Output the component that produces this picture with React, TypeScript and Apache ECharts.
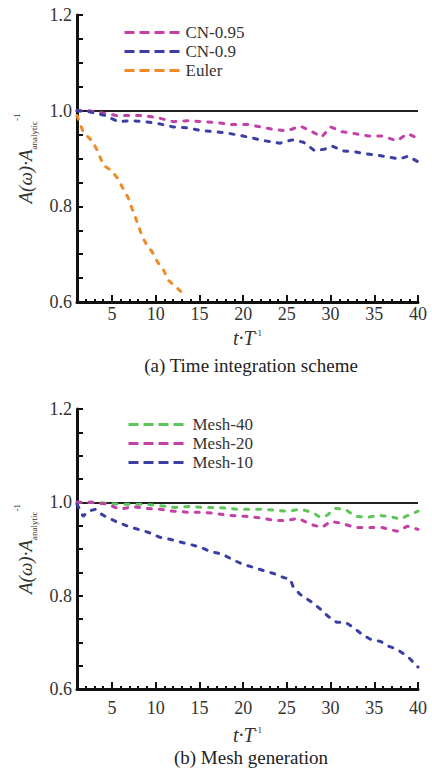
import React, { useEffect, useRef } from "react";
import * as echarts from "echarts";

const FONT = "Liberation Serif";

const xTickValues = [5, 10, 15, 20, 25, 30, 35, 40];
const xMin = 1;
const xMax = 40;
const yMin = 0.6;
const yMax = 1.2;
const yStep = 0.2;
const refLevel = 1.0;

const topCaption = "(a) Time integration scheme";
const bottomCaption = "(b) Mesh generation";

const topNames = ["CN-0.95", "CN-0.9", "Euler"];
const bottomNames = ["Mesh-40", "Mesh-20", "Mesh-10"];

const cn095: [number, number][] = [
  [1, 1.0], [2.3, 1.0], [4.2, 0.994], [5.5, 0.99], [7.1, 0.99], [8.6, 0.99],
  [10.3, 0.985], [12, 0.977], [13.6, 0.979], [15.3, 0.977], [17, 0.975],
  [18.7, 0.971], [20.5, 0.971], [22, 0.966], [23.7, 0.96], [25.1, 0.958],
  [26.5, 0.968], [27.9, 0.956], [29, 0.945], [30, 0.966], [31.3, 0.956],
  [32.8, 0.952], [34.3, 0.947], [35.9, 0.947], [37.6, 0.937], [38.8, 0.952],
  [40, 0.942],
];

const cn09: [number, number][] = [
  [1, 1.0], [2.3, 0.998], [4.2, 0.99], [5.7, 0.977], [7.1, 0.979], [8.8, 0.977],
  [10.3, 0.973], [12, 0.966], [13.7, 0.964], [15.3, 0.958], [16.8, 0.956],
  [18.5, 0.952], [20, 0.947], [22.5, 0.937], [24.2, 0.932], [25.6, 0.939],
  [26.9, 0.934], [28.2, 0.916], [29.4, 0.92], [30.2, 0.926], [31.4, 0.916],
  [32.8, 0.914], [33.9, 0.91], [35.3, 0.907], [36.6, 0.903], [37.9, 0.899],
  [38.9, 0.905], [40, 0.893],
];

const euler: [number, number][] = [
  [1, 0.99], [1.7, 0.956], [2.8, 0.935], [3.4, 0.914], [4, 0.886], [5, 0.874],
  [5.7, 0.857], [6.3, 0.836], [6.8, 0.82], [7.3, 0.795], [7.9, 0.766],
  [8.5, 0.735], [9.1, 0.716], [9.6, 0.705], [10.2, 0.684], [10.9, 0.667],
  [11.4, 0.646], [12.4, 0.63], [13, 0.62], [13.3, 0.616],
];

const mesh40: [number, number][] = [
  [1, 1.0], [2.7, 1.0], [4.5, 0.998], [5.7, 0.996], [8.4, 0.996], [9.9, 0.994],
  [12.2, 0.989], [13.9, 0.991], [15.4, 0.989], [17.1, 0.989], [19.4, 0.985],
  [20.6, 0.985], [22.2, 0.985], [23.7, 0.983], [25.1, 0.981], [26.5, 0.985],
  [27.9, 0.979], [28.8, 0.968], [29.6, 0.972], [30.5, 0.987], [31.7, 0.985],
  [32.8, 0.97], [34.2, 0.968], [35.4, 0.972], [36.8, 0.97], [37.9, 0.964],
  [39.1, 0.974], [40, 0.981],
];

const mesh20: [number, number][] = [
  [1, 1.0], [2.7, 1.0], [4.5, 0.996], [5.9, 0.985], [7.4, 0.991], [8.8, 0.987],
  [10.5, 0.985], [12, 0.981], [13.6, 0.979], [15.3, 0.979], [16.8, 0.976],
  [18.5, 0.972], [20.3, 0.97], [22.2, 0.966], [23.7, 0.961], [25, 0.961],
  [26.3, 0.966], [27.7, 0.953], [29, 0.946], [30, 0.959], [31.3, 0.955],
  [32.8, 0.946], [34.3, 0.946], [35.9, 0.946], [37.6, 0.938], [38.8, 0.949],
  [40, 0.942],
];

const mesh10: [number, number][] = [
  [1, 0.996], [1.7, 0.97], [2.3, 0.981], [3.1, 0.985], [3.4, 0.979],
  [4.4, 0.968], [5.7, 0.957], [6.8, 0.949], [8, 0.942], [9.1, 0.936],
  [10.5, 0.925], [11.6, 0.921], [12.6, 0.916], [13.9, 0.91], [15.1, 0.904],
  [16.2, 0.895], [17.6, 0.889], [18.7, 0.878], [20, 0.867], [21.1, 0.861],
  [22.3, 0.854], [23.4, 0.848], [24.6, 0.839], [25.4, 0.835], [25.7, 0.82],
  [26.5, 0.803], [27.7, 0.788], [28.6, 0.775], [29.7, 0.756], [30.7, 0.743],
  [31.7, 0.743], [32.6, 0.732], [33.6, 0.717], [34.5, 0.707], [35.7, 0.702],
  [36.6, 0.692], [37.6, 0.685], [38.8, 0.67], [39.7, 0.653], [40, 0.647],
];

const COLORS = {
  magenta: "#c43fa6",
  blue: "#3b3fa3",
  orange: "#f08a24",
  green: "#5cc658",
};

const AXIS_COLOR = "#111";
const LABEL_COLOR = "#333";

const tickRich = {
  s: { fontFamily: FONT, fontSize: 18, color: LABEL_COLOR },
};

function yAxisName() {
  return {
    name: "{a|A(ω)·A}{b|analytic}{c|-1}",
    nameLocation: "middle" as const,
    nameRotate: 90,
    nameGap: 33,
    nameTextStyle: {
      fontFamily: FONT,
      rich: {
        a: { fontFamily: FONT, fontStyle: "italic", fontSize: 19, color: LABEL_COLOR, lineHeight: 26 },
        b: { fontFamily: FONT, fontSize: 9, color: LABEL_COLOR, lineHeight: 10, verticalAlign: "bottom" },
        c: { fontFamily: FONT, fontSize: 9, color: LABEL_COLOR, lineHeight: 10, verticalAlign: "top" },
      },
    },
  };
}

function xAxes(gridIndex: number, labelMargin: number, nameGap: number) {
  return [
    {
      gridIndex,
      type: "value",
      min: xMin,
      max: xMax,
      position: "bottom",
      axisLine: { show: true, onZero: false, lineStyle: { color: AXIS_COLOR, width: 3 } },
      axisTick: { show: true, inside: true, length: 7, customValues: xTickValues, lineStyle: { color: AXIS_COLOR, width: 2 } },
      axisLabel: {
        show: true,
        customValues: xTickValues,
        fontFamily: FONT,
        fontSize: 18,
        color: LABEL_COLOR,
        margin: labelMargin,
        formatter: (v: number) => `{s|${v}}`,
        rich: tickRich,
      },
      splitLine: { show: false },
      name: "{a|t·T}{c|-1}",
      nameLocation: "middle",
      nameGap,
      nameTextStyle: {
        fontFamily: FONT,
        rich: {
          a: { fontFamily: FONT, fontStyle: "italic", fontSize: 20, color: LABEL_COLOR, lineHeight: 20 },
          c: { fontFamily: FONT, fontSize: 9, color: LABEL_COLOR, lineHeight: 10, verticalAlign: "top" },
        },
      },
    },
    {
      gridIndex,
      type: "value",
      min: xMin,
      max: xMax,
      interval: 1,
      position: "bottom",
      axisLine: { show: false, onZero: false },
      axisTick: { show: true, inside: true, length: 3, lineStyle: { color: AXIS_COLOR, width: 2 } },
      axisLabel: { show: false },
      splitLine: { show: false },
    },
  ];
}

function yAxis(gridIndex: number) {
  return {
    gridIndex,
    type: "value",
    min: yMin,
    max: yMax,
    interval: yStep,
    axisLine: { show: true, lineStyle: { color: AXIS_COLOR, width: 3 } },
    axisTick: { show: true, inside: true, length: 6, lineStyle: { color: AXIS_COLOR, width: 2 } },
    minorTick: { show: true, splitNumber: 4, length: 6, lineStyle: { color: AXIS_COLOR, width: 2 } },
    axisLabel: {
      fontFamily: FONT,
      fontSize: 18,
      color: LABEL_COLOR,
      margin: 5,
      formatter: (v: number) => `{s|${v.toFixed(1)}}`,
      rich: tickRich,
    },
    splitLine: { show: false },
    minorSplitLine: { show: false },
    ...yAxisName(),
  };
}

function lineSeries(name: string, data: [number, number][], color: string, xi: number, yi: number, withRef: boolean) {
  const s: any = {
    name,
    type: "line",
    xAxisIndex: xi,
    yAxisIndex: yi,
    data,
    symbol: "none",
    z: 3,
    itemStyle: { color },
    lineStyle: { color, width: 3, type: [4, 8], cap: "round" },
  };
  if (withRef) {
    s.markLine = {
      silent: true,
      symbol: ["none", "none"],
      label: { show: false },
      lineStyle: { color: "#222", width: 2, type: "solid" },
      data: [{ yAxis: refLevel }],
      z: 2,
    };
  }
  return s;
}

// one legend component per entry so the rows can sit as tightly as in the reference
function legendRows(names: string[], left: number, top: number, rowStep: number, itemWidth: number) {
  return names.map((n, i) => ({
    data: [n],
    orient: "vertical",
    left,
    top: top + i * rowStep,
    padding: 0,
    itemGap: 0,
    itemWidth,
    itemHeight: 14,
    itemStyle: { opacity: 0 },
    lineStyle: { width: 3, type: [10, 5], cap: "butt" },
    formatter: (s: string) => `{s|${s}}`,
    textStyle: {
      fontFamily: FONT,
      fontSize: 17,
      color: LABEL_COLOR,
      rich: { s: { fontFamily: FONT, fontSize: 17, color: LABEL_COLOR, lineHeight: 19 } },
    },
  }));
}

export default function App() {
  const ref = useRef<HTMLDivElement>(null);

  useEffect(() => {
    if (!ref.current) return;
    const chart = echarts.init(ref.current, null, { renderer: "svg" });
    const option: any = {
      animation: false,
      backgroundColor: "#fff",
      textStyle: { fontFamily: FONT },
      grid: [
        { left: 77, top: 15, width: 341, height: 287 },
        { left: 77, top: 409, width: 341, height: 280 },
      ],
      xAxis: [...xAxes(0, 3, 26), ...xAxes(1, 10, 36)],
      yAxis: [yAxis(0), yAxis(1)],
      legend: [
        ...legendRows(topNames, 123, 24, 19, 56),
        ...legendRows(bottomNames, 127, 416, 19, 59),
      ],
      series: [
        lineSeries(topNames[0], cn095, COLORS.magenta, 0, 0, true),
        lineSeries(topNames[1], cn09, COLORS.blue, 0, 0, false),
        lineSeries(topNames[2], euler, COLORS.orange, 0, 0, false),
        lineSeries(bottomNames[0], mesh40, COLORS.green, 2, 1, true),
        lineSeries(bottomNames[1], mesh20, COLORS.magenta, 2, 1, false),
        lineSeries(bottomNames[2], mesh10, COLORS.blue, 2, 1, false),
      ],
      graphic: [
        {
          type: "text",
          x: 251,
          y: 365,
          style: { text: topCaption, fontFamily: FONT, fontSize: 19, fill: "#222", align: "center", verticalAlign: "middle" },
        },
        {
          type: "text",
          x: 251,
          y: 757,
          style: { text: bottomCaption, fontFamily: FONT, fontSize: 19, fill: "#222", align: "center", verticalAlign: "middle" },
        },
      ],
    };
    chart.setOption(option);
    return () => chart.dispose();
  }, []);

  return (
    <div
      ref={ref}
      style={{ position: "absolute", left: 0, top: 0, width: 432, height: 769, background: "#fff" }}
    />
  );
}
